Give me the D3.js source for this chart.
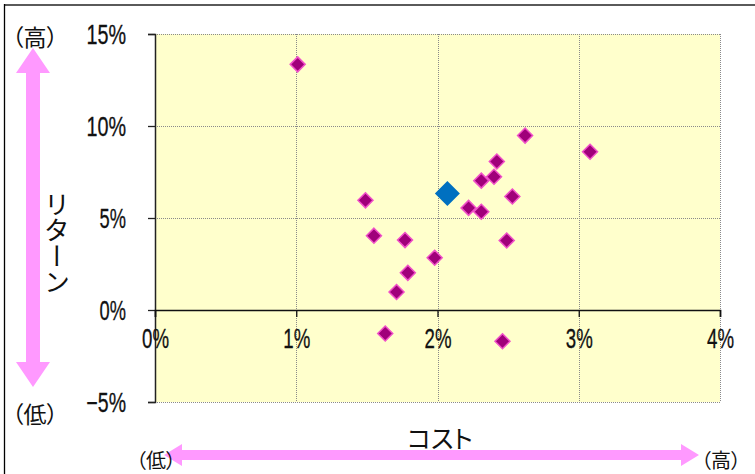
<!DOCTYPE html>
<html><head><meta charset="utf-8">
<script src="https://cdn.jsdelivr.net/npm/d3@7"></script>
<style>
html,body{margin:0;padding:0;background:#fff;}
svg{display:block;}
.jp{font-family:"Noto Sans CJK JP","Noto Sans",sans-serif;font-feature-settings:"palt";}
.num{font-family:"Liberation Sans","Noto Sans",sans-serif;}
</style></head>
<body>
<svg id="c" width="755" height="474"></svg>
<script>
// Data (cost %, return %)
const fundCost   = [1.01, 2.62, 3.08, 2.42, 2.40, 2.31, 2.53, 1.49, 2.22, 2.31, 1.55, 1.77, 2.49, 1.98, 1.79, 1.71, 1.63, 2.46];
const fundReturn = [13.35, 9.48, 8.60, 8.07, 7.24, 7.03, 6.17, 5.96, 5.55, 5.34, 4.04, 3.80, 3.78, 2.84, 2.02, 0.98, -1.28, -1.70];
const highlightCost = [2.07];
const highlightReturn = [6.33];
const xTicks = [0, 1, 2, 3, 4];
const yTicks = [-5, 0, 5, 10, 15];
const yAxisTitle = "リターン";
const xAxisTitle = "コスト";
const highLabel = "（高）";
const lowLabel = "（低）";

const svg = d3.select("#c");
const L = 155, R = 720, T = 34, B = 402;
const x = d3.scaleLinear().domain([0, 4]).range([L, R]);
const y = d3.scaleLinear().domain([-5, 15]).range([B, T]);

// outer frame
svg.append("line").attr("x1",4).attr("x2",755).attr("y1",5).attr("y2",5).attr("stroke","#5a5a5a").attr("stroke-width",2);
svg.append("line").attr("x1",4.5).attr("x2",4.5).attr("y1",4).attr("y2",474).attr("stroke","#000").attr("stroke-width",1.3);

// plot bg
svg.append("rect").attr("x",L).attr("y",T).attr("width",R-L).attr("height",B-T).attr("fill","#FFFFCC");

// grid
const grid = svg.append("g").attr("stroke","#8a8a8a").attr("stroke-width",1).attr("stroke-dasharray","1,1").attr("fill","none");
yTicks.forEach(t=>{ if(t!==0) grid.append("line").attr("x1",L).attr("x2",R).attr("y1",Math.round(y(t))+0.5).attr("y2",Math.round(y(t))+0.5); });
xTicks.forEach(t=>{ if(t!==0) grid.append("line").attr("x1",Math.round(x(t))+0.5).attr("x2",Math.round(x(t))+0.5).attr("y1",T).attr("y2",B); });

function fmtY(d){ return (d<0? "\u2212"+(-d) : d)+"%"; }
// y axis
const yAxis = svg.append("g").attr("transform",`translate(${L},0)`)
  .call(d3.axisLeft(y).tickValues(yTicks).tickSize(7).tickPadding(22).tickFormat(fmtY));
yAxis.select(".domain").attr("stroke","#222").attr("stroke-width",1.5);
yAxis.selectAll(".tick line").attr("stroke","#222").attr("stroke-width",1.3);
yAxis.selectAll("text").attr("class","num").attr("font-size",27).attr("fill","#111").attr("dy","0.36em")
  .attr("stroke","#111").attr("stroke-width",0.3)
  .attr("textLength",d=>fmtY(d).length*13.2).attr("lengthAdjust","spacingAndGlyphs");

// x axis at y=0
const xAxis = svg.append("g").attr("transform",`translate(0,${y(0)})`)
  .call(d3.axisBottom(x).tickValues(xTicks).tickSize(7).tickPadding(12).tickFormat(d=>d+"%"));
xAxis.select(".domain").attr("stroke","#111").attr("stroke-width",1.6);
xAxis.selectAll(".tick line").attr("stroke","#111").attr("stroke-width",1.3);
xAxis.selectAll("text").attr("class","num").attr("font-size",27).attr("fill","#111")
  .attr("stroke","#111").attr("stroke-width",0.3)
  .attr("textLength",d=>(d+"%").length*13.5).attr("lengthAdjust","spacingAndGlyphs");

// diamonds
function dpath(r){ return `M0,${-r}L${r},0L0,${r}L${-r},0Z`; }
svg.append("g").selectAll("path").data(fundCost.map((c,i)=>[c,fundReturn[i]])).join("path")
  .attr("transform",d=>`translate(${x(d[0])},${y(d[1])})`)
  .attr("d",dpath(7.5)).attr("fill","#A0007A").attr("stroke","#F050C8").attr("stroke-width",1.5);
svg.append("g").selectAll("path").data(highlightCost.map((c,i)=>[c,highlightReturn[i]])).join("path")
  .attr("transform",d=>`translate(${x(d[0])},${y(d[1])})`)
  .attr("d",dpath(12.5)).attr("fill","#0070C0");

// arrows
const pink = "#FF99FF";
svg.append("path").attr("fill",pink).attr("d",
  "M33,48 L50,73 L40,73 L40,362 L50,362 L33,387 L16,362 L26,362 L26,73 L16,73 Z");
svg.append("path").attr("fill",pink).attr("d",
  "M164,455 L182,444 L182,450 L681,450 L681,444 L699,455 L681,466 L681,460 L182,460 L182,466 Z");

// labels
function jt(t,xx,yy,fs){ return svg.append("text").attr("class","jp").attr("x",xx).attr("y",yy).attr("font-size",fs).attr("text-anchor","middle").attr("dominant-baseline","central").attr("fill","#111").text(t); }
jt(highLabel,35,36,23);
jt(lowLabel,35,413,23);
jt(lowLabel,156,459,20);
jt(highLabel,721,459,20);
jt(xAxisTitle,440,437,25);
svg.append("text").attr("class","jp").attr("x",57).attr("y",243).attr("font-size",26)
  .attr("text-anchor","middle").style("writing-mode","vertical-rl").style("text-orientation","upright")
  .attr("fill","#111").text(yAxisTitle);
</script>
</body></html>
